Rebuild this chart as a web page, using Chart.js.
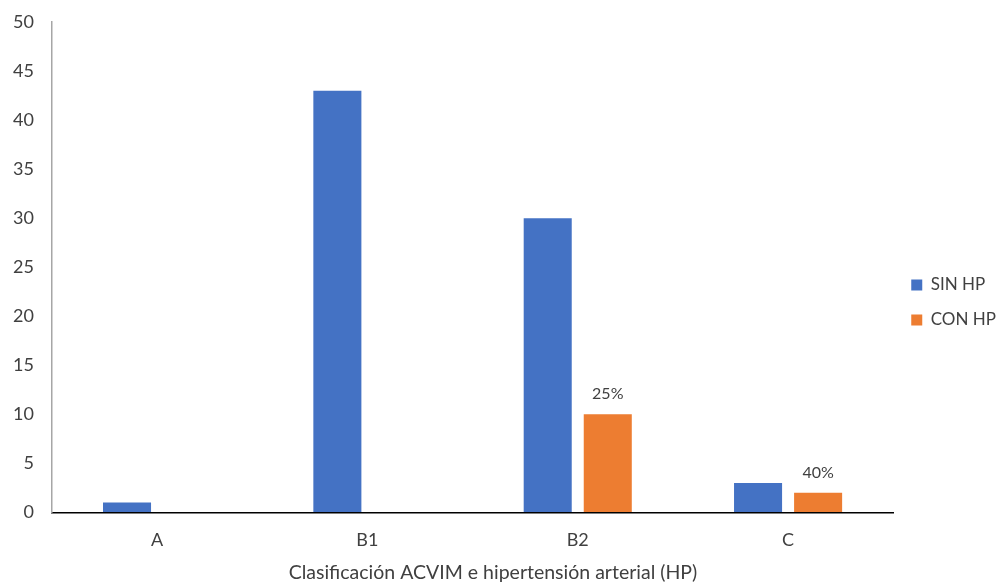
<!DOCTYPE html>
<html>
<head>
<meta charset="utf-8">
<script src="https://cdn.jsdelivr.net/npm/chart.js@4"></script>
<style>
  html, body { margin: 0; padding: 0; background: #fff; }
  #wrap { width: 1004px; height: 583px; position: relative; }
</style>
</head>
<body>
<div id="wrap"><canvas id="chart"></canvas></div>
<script>
// data
const categories = ["A", "B1", "B2", "C"];
const sinHP = [1, 43, 30, 3];
const conHP = [0, 0, 10, 2];
const conHPLabels = ["", "", "25%", "40%"];
const xTitle = "Clasificación ACVIM e hipertensión arterial (HP)";
const yMin = 0, yMax = 50, yStep = 5;

const textColor = "#404040";
const fontFamily = "Lato, 'Open Sans', sans-serif";

// percent labels above the orange bars + x axis title (centred like the original)
const extraText = {
    id: "extraText",
    afterDatasetsDraw(chart) {
        const ctx = chart.ctx;
        const meta = chart.getDatasetMeta(1);
        ctx.save();
        ctx.fillStyle = textColor;
        ctx.font = "16px " + fontFamily;
        ctx.textAlign = "center";
        ctx.textBaseline = "bottom";
        meta.data.forEach((bar, i) => {
            if (!conHPLabels[i]) return;
            ctx.fillText(conHPLabels[i], bar.x, bar.y - 12);
        });
        ctx.font = "19.5px " + fontFamily;
        ctx.textBaseline = "middle";
        ctx.fillText(xTitle, chart.width * 0.491, chart.scales.x.bottom - 10);
        ctx.restore();
    }
};

new Chart(document.getElementById("chart"), {
    type: "bar",
    data: {
        labels: categories,
        datasets: [
            {
                label: "SIN HP",
                data: sinHP,
                backgroundColor: "#4472C4",
                categoryPercentage: 0.571,
                barPercentage: 0.8
            },
            {
                label: "CON HP",
                data: conHP,
                backgroundColor: "#ED7D31",
                categoryPercentage: 0.571,
                barPercentage: 0.8
            }
        ]
    },
    options: {
        responsive: true,
        maintainAspectRatio: false,
        animation: false,
        layout: { padding: { top: 22, right: -2, left: 3, bottom: 0 } },
        plugins: {
            tooltip: { enabled: false },
            legend: {
                position: "right",
                labels: {
                    boxWidth: 11,
                    boxHeight: 11,
                    padding: 18,
                    color: textColor,
                    font: { size: 17, family: fontFamily }
                }
            }
        },
        scales: {
            x: {
                grid: { display: false, drawTicks: false },
                border: { color: "#000", width: 1.5 },
                ticks: { color: textColor, padding: 17, font: { size: 18, family: fontFamily } },
                afterFit(scale) { scale.height += 15; }
            },
            y: {
                min: yMin,
                max: yMax,
                grid: { display: true, drawOnChartArea: false, drawTicks: true, tickLength: 8, color: "rgba(0,0,0,0)" },
                border: { color: "#a6a6a6", width: 1.5 },
                ticks: { stepSize: yStep, color: textColor, padding: 10, font: { size: 18, family: fontFamily } }
            }
        }
    },
    plugins: [extraText]
});
</script>
</body>
</html>
